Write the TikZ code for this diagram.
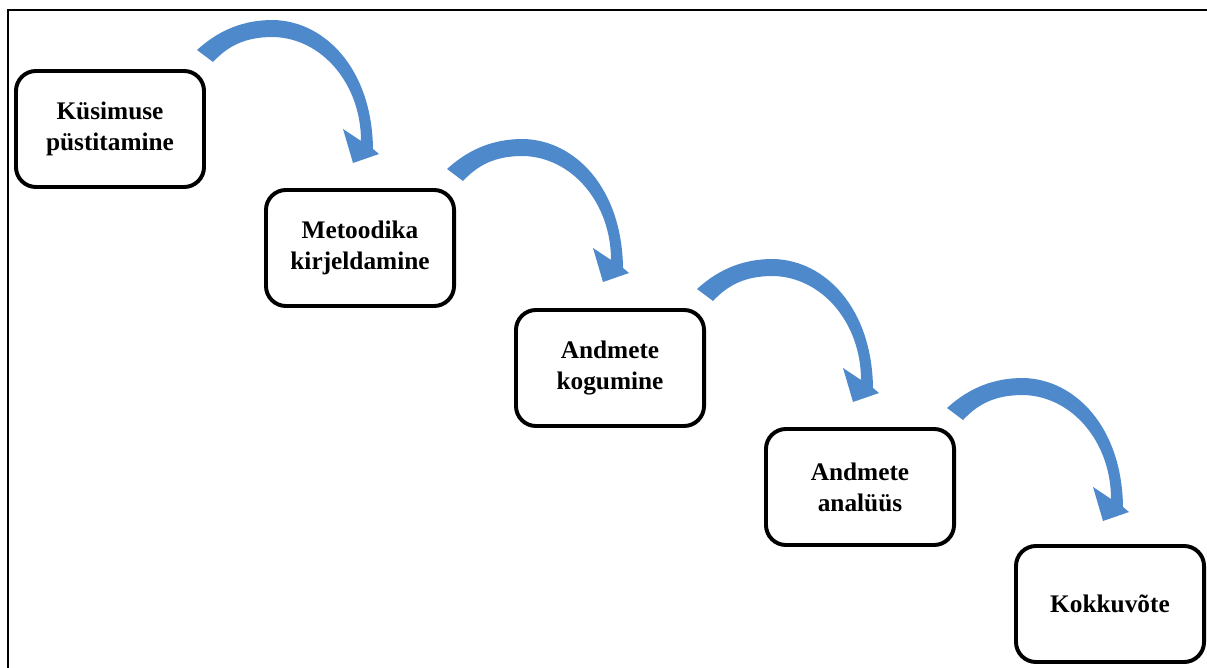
\documentclass[tikz,border=0pt]{standalone}
\usepackage{fontspec}
\setmainfont{Liberation Serif}
\usepackage{xcolor}
\usepackage{tikz}
\definecolor{arrowblue}{RGB}{78,138,203}

\begin{document}
\begin{tikzpicture}[x=0.025cm,y=-0.025cm,
    stepbox/.style={draw, line width=2.8pt, rounded corners=0.5cm, fill=white,
      minimum width=4.7cm, minimum height=2.9cm, align=center,
      font=\bfseries\fontsize{18}{22}\selectfont},
    flowarrow/.style={fill=arrowblue}]
   \useasboundingbox (0,0) rectangle (1207,668);
   % frame (only top and left edge are visible)
   \draw[line width=2pt] (8,668) -- (8,10) -- (1207,10);
   % the five steps
   \node[stepbox] (kys) at (110,129) {Küsimuse\\püstitamine};
   \node[stepbox] (met) at (360,248) {Metoodika\\kirjeldamine};
   \node[stepbox] (kog) at (610,368) {Andmete\\kogumine};
   \node[stepbox] (ana) at (860,487) {Andmete\\analüüs};
   \node[stepbox] (kok) at (1110,604) {Kokkuvõte};
   % curved arrows, drawn relative to the box they start from
   \foreach \a in {kys,met,kog,ana}
     \fill[flowarrow, shift={(\a.center)}]
       (87,-79) .. controls (110,-100) and (135,-109) .. (163,-109)
       .. controls (215,-108) and (262,-60) .. (263,20)
       -- (269,25) -- (243,34) -- (233,0) -- (251,12)
       .. controls (251,-45) and (212,-91) .. (163,-92)
       .. controls (135,-92) and (118,-83) .. (103,-67) -- cycle;
\end{tikzpicture}
\end{document}
